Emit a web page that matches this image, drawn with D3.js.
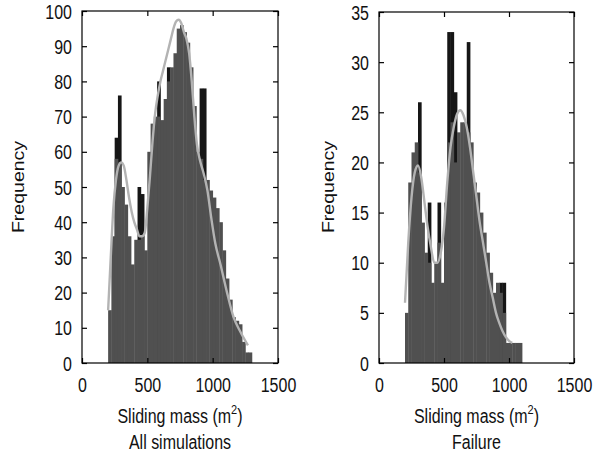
<!DOCTYPE html>
<html>
<head>
<meta charset="utf-8">
<script src="https://cdn.jsdelivr.net/npm/d3@7"></script>
<style>
  body { margin: 0; background: #fff; }
  svg { display: block; font-family: "Liberation Sans", Arial, sans-serif; }
</style>
</head>
<body>
<svg width="596" height="454"></svg>
<script>
// bin starts (m^2), bin width 25
const binWidth = 25;
const allBins = d3.range(200, 1300, binWidth);
const allCounts = [15, 36, 58, 57, 50, 45, 36, 28, 35, 35, 36, 32, 60, 68, 70, 70, 69, 75, 80, 84,
                   88, 95, 96, 94, 91, 84, 73, 60, 58, 52, 52, 49, 47, 44, 40, 32, 24, 18, 13, 12,
                   11, 6, 3, 3];
// darker histogram that only shows where it sticks out
const allSpikes = [0, 0, 64, 76, 0, 0, 0, 0, 0, 50, 48, 0, 0, 0, 0, 80, 0, 0, 84, 0,
                   0, 0, 0, 0, 0, 0, 0, 0, 78, 78, 0, 0, 0, 0, 0, 0, 0, 0, 0, 0,
                   0, 0, 0, 0];
const allFitX = [200, 220, 240, 260, 280, 300, 320, 340, 360, 380, 400, 420, 440, 460, 480, 500, 520, 540,
                 560, 580, 600, 620, 640, 660, 680, 700, 720, 740, 760, 780, 800, 820, 840, 860, 880, 900,
                 930, 960, 990, 1020, 1060, 1110, 1160, 1210, 1270];
const allFitY = [15, 30, 44, 52, 56, 57, 56, 52, 47, 43, 40, 38, 36, 36, 37, 44, 53, 63,
                 71, 76, 80, 83, 86, 89, 92, 95, 97, 97.5, 96.5, 94, 92, 88, 80, 70, 62, 58,
                 54, 49, 41, 34, 28, 20, 13, 9, 5];

const failBins = d3.range(200, 1100, binWidth);
const failCounts = [5, 18, 21, 22, 19, 14, 11, 10, 8, 10, 12, 8, 16, 22, 24, 20, 23, 24, 24, 23,
                    22, 18, 17, 15, 13, 11, 9, 7, 8, 7, 5, 2, 2, 2, 2, 2];
const failSpikes = [0, 0, 0, 0, 26, 0, 0, 16, 0, 0, 16, 0, 0, 33, 33, 27, 0, 0, 0, 32,
                    0, 0, 0, 0, 0, 0, 0, 0, 0, 8, 8, 0, 0, 0, 0, 0];
const failFitX = [200, 225, 250, 275, 300, 325, 350, 375, 400, 425, 450, 475, 500, 525, 550, 575, 600, 625,
                  650, 675, 700, 725, 750, 775, 800, 825, 850, 875, 900, 925, 950, 975, 1000, 1025];
const failFitY = [6, 12, 16.5, 19, 19.7, 18.5, 16, 13.5, 11.5, 10, 10, 11, 13.5, 18, 21.5, 23.5, 24.8, 25.2,
                  24.7, 23.5, 21.5, 19, 16.5, 14, 12, 10, 8, 6.5, 5, 4, 3.2, 2.6, 2.2, 2];

const xTicks = [0, 500, 1000, 1500];

const svg = d3.select("svg");
const stretch = 1.22; // the scanned text is taller than it is wide

function panel(opt) {
  const x = d3.scaleLinear().domain([0, 1500]).range([opt.left, opt.right]);
  const y = d3.scaleLinear().domain([0, opt.yMax]).range([opt.bottom, opt.top]);
  const g = svg.append("g");

  const bars = (vals, fill) => g.append("g").selectAll("rect")
      .data(opt.bins.map((b, i) => ({ b, v: vals[i] })).filter(d => d.v > 0))
      .enter().append("rect")
      .attr("x", d => x(d.b))
      .attr("width", d => x(d.b + binWidth) - x(d.b) + 0.4)
      .attr("y", d => y(d.v))
      .attr("height", d => y(0) - y(d.v))
      .attr("fill", fill);

  bars(opt.spikes, "#161616");
  bars(opt.counts, "#505050");

  g.append("path")
      .datum(opt.fitX.map((v, i) => [v, opt.fitY[i]]))
      .attr("fill", "none")
      .attr("stroke", "#b3b3b3")
      .attr("stroke-width", 2.4)
      .attr("d", d3.line().x(d => x(d[0])).y(d => y(d[1])).curve(d3.curveMonotoneX));

  // frame with inward ticks on all four sides
  g.append("rect")
      .attr("x", opt.left).attr("y", opt.top)
      .attr("width", opt.right - opt.left).attr("height", opt.bottom - opt.top)
      .attr("fill", "none").attr("stroke", "#000").attr("stroke-width", 1.2);

  const yTicks = d3.range(0, opt.yMax + 1, opt.yStep);

  const bottomAxis = g.append("g")
      .attr("transform", `translate(0,${opt.bottom})`)
      .call(d3.axisBottom(x).tickValues(xTicks).tickSize(-5).tickSizeOuter(0).tickFormat(d3.format("d")));
  bottomAxis.selectAll("text")
      .attr("y", 0).attr("dy", null)
      .attr("transform", `translate(0,29) scale(1,${stretch})`);

  const leftAxis = g.append("g")
      .attr("transform", `translate(${opt.left},0)`)
      .call(d3.axisLeft(y).tickValues(yTicks).tickSize(-5).tickSizeOuter(0).tickFormat(d3.format("d")));
  leftAxis.selectAll("text")
      .attr("x", 0).attr("dy", null)
      .attr("transform", `translate(-10,7) scale(1,${stretch})`);

  g.append("g")
      .attr("transform", `translate(0,${opt.top})`)
      .call(d3.axisTop(x).tickValues(xTicks).tickSize(-5).tickSizeOuter(0).tickFormat(""));
  g.append("g")
      .attr("transform", `translate(${opt.right},0)`)
      .call(d3.axisRight(y).tickValues(yTicks).tickSize(-5).tickSizeOuter(0).tickFormat(""));

  g.selectAll(".domain").remove();
  g.selectAll(".tick line").attr("stroke", "#000").attr("stroke-width", 1.2);
  g.selectAll(".tick text").attr("font-size", 16).attr("font-family", "Liberation Sans, Arial, sans-serif").attr("fill", "#111");

  const cx = (opt.left + opt.right) / 2;
  const lab = g.append("text")
      .attr("text-anchor", "middle")
      .attr("font-size", 16).attr("fill", "#111")
      .attr("transform", `translate(${cx},423) scale(1,${stretch})`);
  lab.append("tspan").text("Sliding mass (m");
  lab.append("tspan").attr("font-size", 11).attr("dy", -7).text("2");
  lab.append("tspan").attr("dy", 7).text(")");

  g.append("text")
      .attr("text-anchor", "middle")
      .attr("font-size", 16).attr("fill", "#111")
      .attr("transform", `translate(${cx},449) scale(1,${stretch})`)
      .text(opt.subtitle);

  g.append("text")
      .attr("text-anchor", "middle")
      .attr("font-size", 16).attr("fill", "#111")
      .attr("transform", `translate(${opt.yLabelX},187) scale(1,${stretch}) rotate(-90)`)
      .text("Frequency");
}

panel({ left: 82, right: 278, top: 11, bottom: 363, yMax: 100, yStep: 10,
        bins: allBins, counts: allCounts, spikes: allSpikes, fitX: allFitX, fitY: allFitY,
        subtitle: "All simulations", yLabelX: 24 });

panel({ left: 379, right: 574, top: 12, bottom: 363, yMax: 35, yStep: 5,
        bins: failBins, counts: failCounts, spikes: failSpikes, fitX: failFitX, fitY: failFitY,
        subtitle: "Failure", yLabelX: 334 });
</script>
</body>
</html>
